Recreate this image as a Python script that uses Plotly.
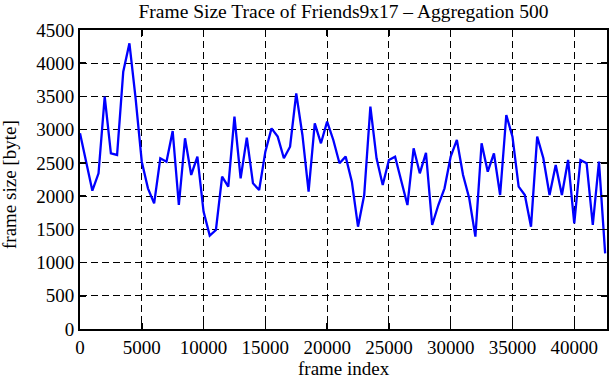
import plotly.graph_objects as go

aggregation = 500
frame_size = [2945, 2518, 2082, 2343, 3497, 2644, 2619, 3873, 4300, 3472,
              2518, 2117, 1891, 2569, 2518, 2980, 1866, 2870, 2318, 2594,
              1766, 1405, 1490, 2293, 2142, 3196, 2268, 2880, 2192, 2092,
              2669, 3020, 2895, 2569, 2744, 3547, 2920, 2067, 3095, 2795,
              3121, 2845, 2494, 2594, 2218, 1540, 2017, 3346, 2569, 2167,
              2544, 2594, 2218, 1866, 2719, 2343, 2650, 1565, 1866, 2117,
              2594, 2845, 2318, 1967, 1390, 2795, 2368, 2644, 2017, 3221,
              2895, 2142, 2017, 1540, 2895, 2569, 2017, 2468, 2017, 2544,
              1590, 2544, 2494, 1565, 2519, 1139]
frame_index = [i * aggregation for i in range(len(frame_size))]

x_ticks = [0, 5000, 10000, 15000, 20000, 25000, 30000, 35000, 40000]
y_ticks = [0, 500, 1000, 1500, 2000, 2500, 3000, 3500, 4000, 4500]

title_text = "Frame Size Trace of Friends9x17 \u2013 Aggregation 500"
x_title = "frame index"
y_title = "frame size [byte]"

FONT = "Liberation Serif"
W, H = 611, 380
ML, MR, MT, MB = 80, 4, 30, 51
PW, PH = W - ML - MR, H - MT - MB

fig = go.Figure()
fig.add_trace(go.Scatter(x=frame_index, y=frame_size, mode="lines",
                         line=dict(color="#0000ff", width=2.3),
                         showlegend=False, hoverinfo="skip"))

axis_common = dict(
    showline=True, linecolor="black", linewidth=2, mirror="ticks",
    ticks="inside", ticklen=6, tickwidth=1.5, tickcolor="black",
    showgrid=True, gridcolor="black", gridwidth=1, griddash="7px,4px",
    zeroline=False, automargin=False,
    tickfont=dict(family=FONT, size=19, color="black"),
)

fig.update_layout(
    width=W, height=H,
    margin=dict(l=ML, r=MR, t=MT, b=MB, autoexpand=False),
    paper_bgcolor="white", plot_bgcolor="white",
    title=dict(text=title_text,
               font=dict(family=FONT, size=19.5, color="black"),
               x=(ML + PW / 2) / W, xref="container", xanchor="center",
               y=1 - 11 / H, yref="container", yanchor="middle",
               automargin=False),
    xaxis=dict(range=[0, 42650], tickvals=x_ticks,
               ticktext=[str(v) for v in x_ticks], **axis_common),
    yaxis=dict(range=[0, 4500], tickvals=y_ticks,
               ticktext=[str(v) for v in y_ticks], **axis_common),
    annotations=[
        dict(text=x_title, xref="paper", yref="paper",
             x=0.5, y=(MT + PH - 368) / PH, xanchor="center", yanchor="middle",
             showarrow=False, font=dict(family=FONT, size=19, color="black")),
        dict(text=y_title, xref="paper", yref="paper", textangle=-90,
             x=(9 - ML) / PW, y=(MT + PH - 185) / PH,
             xanchor="center", yanchor="middle",
             showarrow=False, font=dict(family=FONT, size=19, color="black")),
    ],
)

fig.write_html("out.html",
               config={"displayModeBar": False, "staticPlot": True},
               post_script="document.body.style.margin='0';"
                           "document.body.style.overflow='hidden';")
